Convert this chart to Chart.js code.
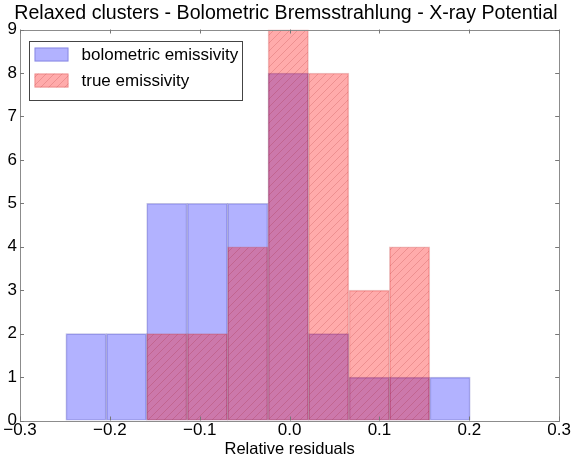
<!DOCTYPE html>
<html>
<head>
<meta charset="utf-8">
<script src="https://cdn.jsdelivr.net/npm/chart.js@4.4.1/dist/chart.umd.min.js"></script>
<style>
  html, body { margin: 0; padding: 0; background: #fff; }
  #wrap { width: 572px; height: 465px; }
</style>
</head>
<body>
<div id="wrap"><canvas id="hist"></canvas></div>
<script>
// Histogram data (bin edges shared by both series)
const binEdges = [-0.249, -0.204, -0.159, -0.114, -0.069, -0.024, 0.021, 0.066, 0.111, 0.156, 0.201];
const bolometricCounts = [2, 2, 5, 5, 5, 8, 2, 1, 1, 1];
const trueCounts = [0, 0, 2, 2, 4, 9, 8, 3, 4, 0];
const xTicks = [-0.3, -0.2, -0.1, 0.0, 0.1, 0.2, 0.3];
const xTickLabels = ["\u22120.3", "\u22120.2", "\u22120.1", "0.0", "0.1", "0.2", "0.3"];
const yTicks = [0, 1, 2, 3, 4, 5, 6, 7, 8, 9];

const FONT = "'Liberation Sans', Arial, sans-serif";

// bin centres from the edges
const binCenters = binEdges.slice(0, -1).map((e, i) => (e + binEdges[i + 1]) / 2);

function toPoints(counts) {
    return counts.map((c, i) => ({ x: binCenters[i], y: c }));
}

// hatch "//" fill for the red histogram
function makeHatch() {
    const s = 8;
    const c = document.createElement("canvas");
    c.width = s; c.height = s;
    const g = c.getContext("2d");
    g.fillStyle = "rgba(255, 0, 0, 0.33)";
    g.fillRect(0, 0, s, s);
    g.strokeStyle = "rgba(140, 0, 0, 0.16)";
    g.lineWidth = 1;
    g.beginPath();
    g.moveTo(0, s); g.lineTo(s, 0);
    g.moveTo(-1, 1); g.lineTo(1, -1);
    g.moveTo(s - 1, s + 1); g.lineTo(s + 1, s - 1);
    g.stroke();
    return g.createPattern(c, "repeat");
}
const hatch = makeHatch();

// frame + inward ticks on all four sides, matplotlib style
const framePlugin = {
    id: "frame",
    afterDatasetsDraw(chart) {
        const { ctx, chartArea: a, scales } = chart;
        ctx.save();
        ctx.strokeStyle = "#8c8c8c";
        ctx.lineWidth = 1;
        ctx.strokeRect(Math.round(a.left) + 0.5, Math.round(a.top) + 0.5,
            Math.round(a.right - a.left), Math.round(a.bottom - a.top));
        ctx.strokeStyle = "#777";
        ctx.beginPath();
        xTicks.forEach(v => {
            const px = Math.round(scales.x.getPixelForValue(v)) + 0.5;
            ctx.moveTo(px, a.bottom); ctx.lineTo(px, a.bottom - 4);
            ctx.moveTo(px, a.top); ctx.lineTo(px, a.top + 4);
        });
        yTicks.forEach(v => {
            const py = Math.round(scales.y.getPixelForValue(v)) + 0.5;
            ctx.moveTo(a.left, py); ctx.lineTo(a.left + 4, py);
            ctx.moveTo(a.right, py); ctx.lineTo(a.right - 4, py);
        });
        ctx.stroke();
        ctx.restore();
    },
    afterDraw(chart) {
        // legend box in the upper left of the axes
        const { ctx, chartArea: a } = chart;
        const x0 = a.left + 8.5, y0 = a.top + 11, w = 213, h = 59;
        ctx.save();
        ctx.fillStyle = "#fff";
        ctx.fillRect(x0, y0, w, h);
        ctx.strokeStyle = "#444";
        ctx.lineWidth = 1;
        ctx.strokeRect(Math.round(x0) + 0.5, Math.round(y0) + 0.5, w, h);
        ctx.font = "17px " + FONT;
        ctx.textBaseline = "middle";
        const items = [chart.data.datasets[1], chart.data.datasets[0]];
        items.forEach((ds, i) => {
            const yy = y0 + 14 + i * 26;
            ctx.fillStyle = ds.backgroundColor;
            ctx.fillRect(x0 + 6, yy - 7, 34, 14);
            ctx.strokeStyle = ds.borderColor;
            ctx.strokeRect(x0 + 6.5, yy - 6.5, 33, 13);
            ctx.fillStyle = "#000";
            ctx.fillText(ds.label, x0 + 53, yy + 1);
        });
        ctx.restore();
    }
};

new Chart(document.getElementById("hist"), {
    type: "bar",
    data: {
        datasets: [
            {
                label: "true emissivity",
                data: toPoints(trueCounts),
                backgroundColor: hatch,
                borderColor: "rgba(200, 60, 60, 0.3)",
                borderWidth: 1,
                borderSkipped: false,
                grouped: false,
                barPercentage: 1,
                categoryPercentage: 1
            },
            {
                label: "bolometric emissivity",
                data: toPoints(bolometricCounts),
                backgroundColor: "rgba(0, 0, 255, 0.3)",
                borderColor: "rgba(40, 40, 160, 0.3)",
                borderWidth: 1,
                borderSkipped: false,
                grouped: false,
                barPercentage: 1,
                categoryPercentage: 1
            }
        ]
    },
    options: {
        responsive: true,
        maintainAspectRatio: false,
        animation: false,
        layout: { padding: { left: 0, right: 0, top: 0, bottom: 0 } },
        plugins: {
            legend: { display: false },
            tooltip: { enabled: false },
            title: {
                display: true,
                text: "Relaxed clusters - Bolometric Bremsstrahlung - X-ray Potential",
                color: "#000",
                font: { family: FONT, size: 19.6, weight: "normal" },
                padding: { top: 2, bottom: 4 }
            }
        },
        scales: {
            x: {
                type: "linear",
                min: -0.3,
                max: 0.3,
                offset: false,
                grid: { display: false, drawTicks: false },
                border: { display: false },
                afterBuildTicks: axis => { axis.ticks = xTicks.map(v => ({ value: v })); },
                ticks: {
                    color: "#000",
                    font: { family: FONT, size: 17, lineHeight: 1 },
                    padding: 1,
                    maxRotation: 0,
                    callback: (v) => {
                        const i = xTicks.findIndex(t => Math.abs(t - v) < 1e-9);
                        return i >= 0 ? xTickLabels[i] : "";
                    }
                },
                title: {
                    display: true,
                    text: "Relative residuals",
                    color: "#000",
                    font: { family: FONT, size: 16.5, lineHeight: 1 },
                    padding: { top: 2, bottom: 7 }
                }
            },
            y: {
                min: 0,
                max: 9,
                grid: { display: false, drawTicks: false },
                border: { display: false },
                afterFit: axis => { axis.width = 20; },
                afterBuildTicks: axis => { axis.ticks = yTicks.map(v => ({ value: v })); },
                ticks: {
                    color: "#000",
                    font: { family: FONT, size: 17 },
                    padding: 3
                }
            }
        }
    },
    plugins: [framePlugin]
});
</script>
</body>
</html>
